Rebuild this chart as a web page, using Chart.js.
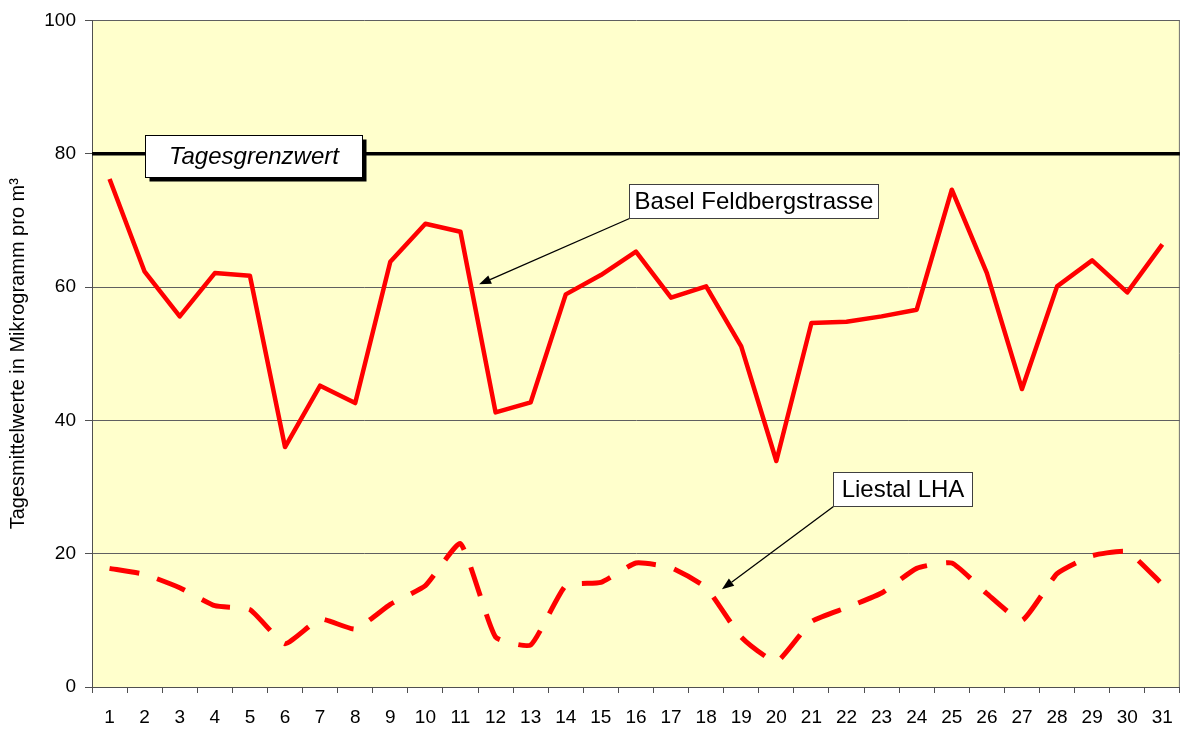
<!DOCTYPE html>
<html>
<head>
<meta charset="utf-8">
<title>Tagesmittelwerte</title>
<script src="https://cdn.jsdelivr.net/npm/chart.js@4/dist/chart.umd.min.js"></script>
<style>
  body { margin: 0; background: #ffffff; }
  #wrap { width: 1186px; height: 729px; }
</style>
</head>
<body>
<div id="wrap"><canvas id="chart" width="1186" height="729"></canvas></div>
<script>
// days of the month
const days = ["1", "2", "3", "4", "5", "6", "7", "8", "9", "10", "11", "12", "13", "14", "15", "16",
    "17", "18", "19", "20", "21", "22", "23", "24", "25", "26", "27", "28", "29", "30", "31"];

// daily means
const baselFeldbergstrasse = [76.2, 62.3, 55.6, 62.1, 61.7, 36.0, 45.2, 42.6, 63.8, 69.5, 68.3,
    41.2, 42.7, 58.9, 61.8, 65.3, 58.4, 60.1, 51.1, 33.9, 54.6, 54.8, 55.6, 56.6, 74.6, 62.1,
    44.7, 60.1, 64.0, 59.2, 66.4];
const liestalLHA = [17.8, 16.9, 14.9, 12.2, 11.6, 6.5, 10.2, 8.7, 12.4, 15.2, 21.5,
    7.5, 6.3, 15.2, 15.7, 18.6, 17.9, 14.9, 7.5, 3.8, 9.8, 11.9, 14.1, 17.8, 18.6, 14.0,
    10.0, 17.0, 19.7, 20.3, 15.4];

const yTicks = [0, 20, 40, 60, 80, 100];
const tagesgrenzwert = 80;

const FONT = "'Liberation Sans', Arial, sans-serif";

// callout boxes, anchored in data units (x = day index, y = value)
const callouts = [
    { text: "Tagesgrenzwert", italic: true, shadow: true, x: 1.02, y: 82.8, w: 217, h: 42, arrow: null },
    { text: "Basel Feldbergstrasse", x: 14.8, y: 75.5, w: 249, h: 34, arrow: { x: 10.53, y: 60.4 } },
    { text: "Liestal LHA", x: 20.62, y: 32.3, w: 139, h: 34, arrow: { x: 17.45, y: 14.65 } }
];

// yellow plot area + right border
const plotBackground = {
    id: "plotBackground",
    beforeDraw(chart) {
        const { ctx, chartArea: a } = chart;
        ctx.save();
        ctx.fillStyle = "#FFFFCC";
        ctx.fillRect(a.left, a.top, a.right - a.left, a.bottom - a.top);
        ctx.strokeStyle = "#707070";
        ctx.lineWidth = 1;
        ctx.beginPath();
        ctx.moveTo(a.right - 0.5, a.top);
        ctx.lineTo(a.right - 0.5, a.bottom);
        ctx.stroke();
        ctx.restore();
    }
};

// limit line at 80 across the whole plot
const limitLine = {
    id: "limitLine",
    afterDatasetsDraw(chart) {
        const { ctx, chartArea: a, scales } = chart;
        const y = scales.y.getPixelForValue(tagesgrenzwert);
        ctx.save();
        ctx.strokeStyle = "#000000";
        ctx.lineWidth = 3.5;
        ctx.beginPath();
        ctx.moveTo(a.left, y);
        ctx.lineTo(a.right, y);
        ctx.stroke();
        ctx.restore();
    }
};

function drawArrow(ctx, x1, y1, x2, y2) {
    const ang = Math.atan2(y2 - y1, x2 - x1);
    const len = 12, half = 4.5;
    const bx = x2 - len * Math.cos(ang), by = y2 - len * Math.sin(ang);
    ctx.beginPath();
    ctx.moveTo(x1, y1);
    ctx.lineTo(bx, by);
    ctx.stroke();
    ctx.beginPath();
    ctx.moveTo(x2, y2);
    ctx.lineTo(bx - half * Math.sin(ang), by + half * Math.cos(ang));
    ctx.lineTo(bx + half * Math.sin(ang), by - half * Math.cos(ang));
    ctx.closePath();
    ctx.fill();
}

const calloutPlugin = {
    id: "callouts",
    afterDraw(chart) {
        const { ctx, scales } = chart;
        ctx.save();
        callouts.forEach(c => {
            const left = Math.round(scales.x.getPixelForValue(c.x)) + 0.5;
            const top = Math.round(scales.y.getPixelForValue(c.y)) + 0.5;
            if (c.arrow) {
                ctx.strokeStyle = "#000000";
                ctx.fillStyle = "#000000";
                ctx.lineWidth = 1.3;
                drawArrow(ctx, left, top + c.h,
                    scales.x.getPixelForValue(c.arrow.x), scales.y.getPixelForValue(c.arrow.y));
            }
            if (c.shadow) {
                ctx.fillStyle = "#000000";
                ctx.fillRect(left + 4, top + 4, c.w, c.h);
            }
            ctx.fillStyle = "#FFFFFF";
            ctx.fillRect(left, top, c.w, c.h);
            ctx.strokeStyle = c.shadow ? "#000000" : "#404040";
            ctx.lineWidth = 1;
            ctx.strokeRect(left, top, c.w, c.h);
            ctx.fillStyle = "#000000";
            ctx.font = (c.italic ? "italic " : "") + "24px " + FONT;
            ctx.textAlign = "center";
            ctx.textBaseline = "middle";
            ctx.fillText(c.text, left + c.w / 2, top + c.h / 2 + 1);
        });
        ctx.restore();
    }
};

const ctx = document.getElementById("chart").getContext("2d");

new Chart(ctx, {
    type: "line",
    data: {
        labels: days,
        datasets: [
            {
                label: "Basel Feldbergstrasse",
                data: baselFeldbergstrasse,
                borderColor: "#FF0000",
                borderWidth: 4.5,
                borderJoinStyle: "round",
                pointRadius: 0,
                tension: 0,
                fill: false
            },
            {
                label: "Liestal LHA",
                data: liestalLHA,
                borderColor: "#FF0000",
                borderWidth: 5,
                borderDash: [30, 19],
                borderCapStyle: "butt",
                pointRadius: 0,
                tension: 0.15,
                fill: false
            }
        ]
    },
    options: {
        responsive: false,
        animation: false,
        layout: { padding: { top: 16, right: 5, left: 0, bottom: 0 } },
        plugins: {
            legend: { display: false },
            tooltip: { enabled: false }
        },
        scales: {
            x: {
                offset: true,
                grid: {
                    offset: true,
                    drawOnChartArea: false,
                    tickLength: 6,
                    color: "#505050",
                    tickColor: "#505050"
                },
                border: { color: "#505050", width: 1 },
                ticks: {
                    color: "#000000",
                    font: { family: FONT, size: 19 },
                    padding: 13,
                    maxRotation: 0,
                    autoSkip: false
                },
                afterFit(scale) { scale.height = 42; }
            },
            y: {
                min: 0,
                max: 100,
                afterBuildTicks(scale) { scale.ticks = yTicks.map(v => ({ value: v })); },
                grid: {
                    color: "#606060",
                    lineWidth: 1,
                    tickLength: 7,
                    tickColor: "#505050"
                },
                border: { color: "#505050", width: 1 },
                ticks: {
                    color: "#000000",
                    font: { family: FONT, size: 19 },
                    padding: 9
                },
                title: {
                    display: true,
                    text: "Tagesmittelwerte in Mikrogramm pro m³",
                    color: "#000000",
                    font: { family: FONT, size: 20 },
                    padding: { top: 6, bottom: 0 }
                },
                afterFit(scale) { scale.width = 92; }
            }
        }
    },
    plugins: [plotBackground, limitLine, calloutPlugin]
});
</script>
</body>
</html>
